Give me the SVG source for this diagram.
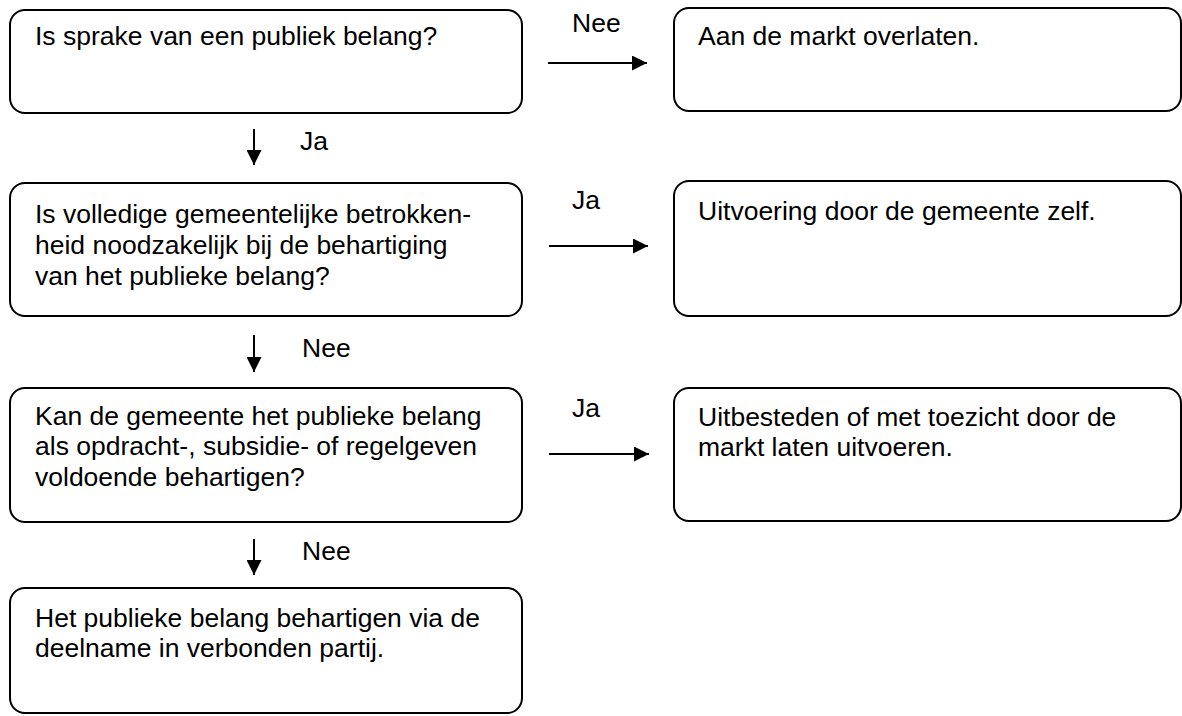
<svg xmlns="http://www.w3.org/2000/svg" width="1182" height="716" viewBox="0 0 1182 716">
<style>
.box{fill:#fff;stroke:#000;stroke-width:2}
.t{font-family:"Liberation Sans",Arial,sans-serif;font-size:26.5px;fill:#000}
.c{stroke:#000;stroke-width:2;fill:none}
</style>
<defs>
<marker id="ah" markerWidth="15" markerHeight="15" refX="15" refY="7.5" orient="auto" markerUnits="userSpaceOnUse">
<path d="M0,0 L15,7.5 L0,15 Z" fill="#000"/>
</marker>
</defs>
<rect width="1182" height="716" fill="#fff"/>
<g id="n1"><rect class="box" x="10" y="10" width="512" height="103" rx="15"/><text class="t" x="35" y="45">Is sprake van een publiek belang?</text></g>
<g id="n2"><rect class="box" x="674" y="8" width="507" height="103" rx="15"/><text class="t" x="698" y="45">Aan de markt overlaten.</text></g>
<g id="n3"><rect class="box" x="10" y="183" width="512" height="133" rx="15"/><text class="t" x="35" y="223">Is volledige gemeentelijke betrokken-</text><text class="t" x="35" y="254">heid noodzakelijk bij de behartiging</text><text class="t" x="35" y="285">van het publieke belang?</text></g>
<g id="n4"><rect class="box" x="674" y="181" width="507" height="135" rx="15"/><text class="t" x="698" y="220">Uitvoering door de gemeente zelf.</text></g>
<g id="n5"><rect class="box" x="10" y="388" width="512" height="134" rx="15"/><text class="t" x="35" y="425">Kan de gemeente het publieke belang</text><text class="t" x="35" y="455">als opdracht-, subsidie- of regelgeven</text><text class="t" x="35" y="486">voldoende behartigen?</text></g>
<g id="n6"><rect class="box" x="674" y="388" width="507" height="133" rx="15"/><text class="t" x="698" y="426">Uitbesteden of met toezicht door de</text><text class="t" x="698" y="456">markt laten uitvoeren.</text></g>
<g id="n7"><rect class="box" x="10" y="588" width="512" height="125" rx="15"/><text class="t" x="35" y="627">Het publieke belang behartigen via de</text><text class="t" x="35" y="657">deelname in verbonden partij.</text></g>
<g id="connectors">
<line class="c" x1="548" y1="63" x2="647" y2="63" marker-end="url(#ah)"/>
<text class="t" x="572" y="32">Nee</text>
<line class="c" x1="549" y1="246" x2="648" y2="246" marker-end="url(#ah)"/>
<text class="t" x="572" y="209">Ja</text>
<line class="c" x1="549" y1="454" x2="649" y2="454" marker-end="url(#ah)"/>
<text class="t" x="572" y="417">Ja</text>
<line class="c" x1="254" y1="129" x2="254" y2="165" marker-end="url(#ah)"/>
<text class="t" x="300" y="150">Ja</text>
<line class="c" x1="254" y1="335" x2="254" y2="372" marker-end="url(#ah)"/>
<text class="t" x="302" y="357">Nee</text>
<line class="c" x1="254" y1="539" x2="254" y2="575" marker-end="url(#ah)"/>
<text class="t" x="302" y="560">Nee</text>
</g>
</svg>
